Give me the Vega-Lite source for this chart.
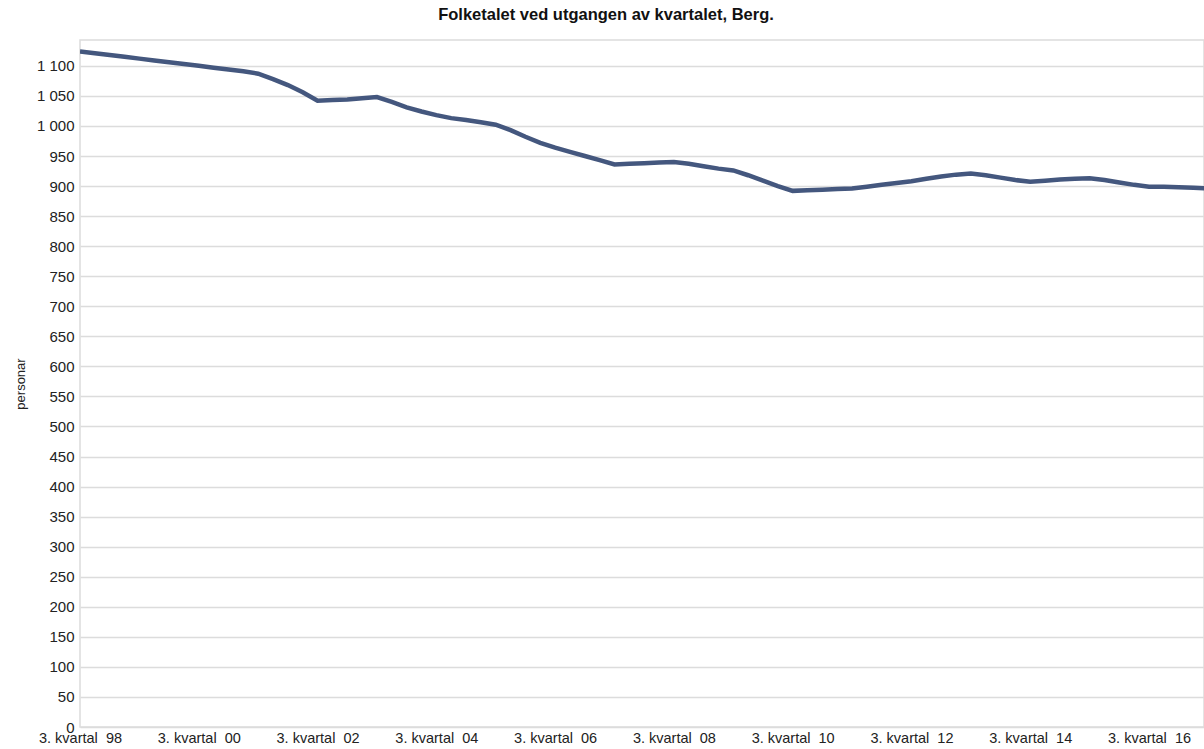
{
  "$schema": "https://vega.github.io/schema/vega-lite/v6.json",
  "width": 1124,
  "height": 687,
  "autosize": {"type": "none"},
  "padding": {"left": 80, "top": 40, "right": 0, "bottom": 22},
  "background": "white",
  "title": {
    "text": "Folketalet ved utgangen av kvartalet, Berg.",
    "font": "Liberation Sans",
    "fontSize": 16.5,
    "fontWeight": "bold",
    "color": "#111111",
    "anchor": "middle",
    "dx": -36,
    "offset": 17
  },
  "config": {
    "view": {"stroke": "#dcdcdc", "strokeWidth": 1.5},
    "axis": {
      "labelFont": "Liberation Sans",
      "titleFont": "Liberation Sans",
      "labelColor": "#222222",
      "titleColor": "#222222",
      "gridColor": "#dcdcdc",
      "gridWidth": 1.5,
      "domain": false,
      "ticks": false
    }
  },
  "data": {
    "values": [
      {"kvartal": "1998K3", "personar": 1124},
      {"kvartal": "1998K4", "personar": 1121},
      {"kvartal": "1999K1", "personar": 1118},
      {"kvartal": "1999K2", "personar": 1115},
      {"kvartal": "1999K3", "personar": 1112},
      {"kvartal": "1999K4", "personar": 1109},
      {"kvartal": "2000K1", "personar": 1106},
      {"kvartal": "2000K2", "personar": 1103},
      {"kvartal": "2000K3", "personar": 1100},
      {"kvartal": "2000K4", "personar": 1097},
      {"kvartal": "2001K1", "personar": 1094},
      {"kvartal": "2001K2", "personar": 1091},
      {"kvartal": "2001K3", "personar": 1087},
      {"kvartal": "2001K4", "personar": 1078},
      {"kvartal": "2002K1", "personar": 1068},
      {"kvartal": "2002K2", "personar": 1056},
      {"kvartal": "2002K3", "personar": 1042},
      {"kvartal": "2002K4", "personar": 1043},
      {"kvartal": "2003K1", "personar": 1044},
      {"kvartal": "2003K2", "personar": 1046},
      {"kvartal": "2003K3", "personar": 1048},
      {"kvartal": "2003K4", "personar": 1040},
      {"kvartal": "2004K1", "personar": 1031},
      {"kvartal": "2004K2", "personar": 1024},
      {"kvartal": "2004K3", "personar": 1018},
      {"kvartal": "2004K4", "personar": 1013},
      {"kvartal": "2005K1", "personar": 1010},
      {"kvartal": "2005K2", "personar": 1006},
      {"kvartal": "2005K3", "personar": 1002},
      {"kvartal": "2005K4", "personar": 993},
      {"kvartal": "2006K1", "personar": 982},
      {"kvartal": "2006K2", "personar": 972},
      {"kvartal": "2006K3", "personar": 964},
      {"kvartal": "2006K4", "personar": 957},
      {"kvartal": "2007K1", "personar": 950},
      {"kvartal": "2007K2", "personar": 943},
      {"kvartal": "2007K3", "personar": 936},
      {"kvartal": "2007K4", "personar": 937},
      {"kvartal": "2008K1", "personar": 938},
      {"kvartal": "2008K2", "personar": 939},
      {"kvartal": "2008K3", "personar": 940},
      {"kvartal": "2008K4", "personar": 937},
      {"kvartal": "2009K1", "personar": 933},
      {"kvartal": "2009K2", "personar": 929},
      {"kvartal": "2009K3", "personar": 926},
      {"kvartal": "2009K4", "personar": 918},
      {"kvartal": "2010K1", "personar": 909},
      {"kvartal": "2010K2", "personar": 900},
      {"kvartal": "2010K3", "personar": 892},
      {"kvartal": "2010K4", "personar": 893},
      {"kvartal": "2011K1", "personar": 894},
      {"kvartal": "2011K2", "personar": 895},
      {"kvartal": "2011K3", "personar": 896},
      {"kvartal": "2011K4", "personar": 899},
      {"kvartal": "2012K1", "personar": 902},
      {"kvartal": "2012K2", "personar": 905},
      {"kvartal": "2012K3", "personar": 908},
      {"kvartal": "2012K4", "personar": 912},
      {"kvartal": "2013K1", "personar": 916},
      {"kvartal": "2013K2", "personar": 919},
      {"kvartal": "2013K3", "personar": 921},
      {"kvartal": "2013K4", "personar": 918},
      {"kvartal": "2014K1", "personar": 914},
      {"kvartal": "2014K2", "personar": 910},
      {"kvartal": "2014K3", "personar": 907},
      {"kvartal": "2014K4", "personar": 909},
      {"kvartal": "2015K1", "personar": 911},
      {"kvartal": "2015K2", "personar": 912},
      {"kvartal": "2015K3", "personar": 913},
      {"kvartal": "2015K4", "personar": 910},
      {"kvartal": "2016K1", "personar": 906},
      {"kvartal": "2016K2", "personar": 902},
      {"kvartal": "2016K3", "personar": 899},
      {"kvartal": "2016K4", "personar": 899},
      {"kvartal": "2017K1", "personar": 898},
      {"kvartal": "2017K2", "personar": 897},
      {"kvartal": "2017K3", "personar": 896}
    ]
  },
  "mark": {
    "type": "line",
    "color": "#44577e",
    "strokeWidth": 4.5,
    "clip": true
  },
  "encoding": {
    "x": {
      "field": "kvartal",
      "type": "ordinal",
      "sort": null,
      "scale": {"type": "point", "padding": 0, "range": [0, 1128.4]},
      "axis": {
        "title": null,
        "labelAngle": 0,
        "labelFontSize": 14.5,
        "labelPadding": 4,
        "values": ["1998K3", "2000K3", "2002K3", "2004K3", "2006K3", "2008K3", "2010K3", "2012K3", "2014K3", "2016K3"],
        "labelExpr": "'3. kvartal\u00a0 ' + slice(datum.value, 2, 4)"
      }
    },
    "y": {
      "field": "personar",
      "type": "quantitative",
      "scale": {"domain": [0, 1143], "nice": false, "zero": true},
      "axis": {
        "title": "personar",
        "titleFontSize": 13,
        "titleFontWeight": "normal",
        "titleX": -60,
        "titleBaseline": "middle",
        "labelFontSize": 15,
        "labelPadding": 6,
        "values": [0, 50, 100, 150, 200, 250, 300, 350, 400, 450, 500, 550, 600, 650, 700, 750, 800, 850, 900, 950, 1000, 1050, 1100],
        "labelExpr": "replace(format(datum.value, ','), ',', ' ')"
      }
    }
  }
}
